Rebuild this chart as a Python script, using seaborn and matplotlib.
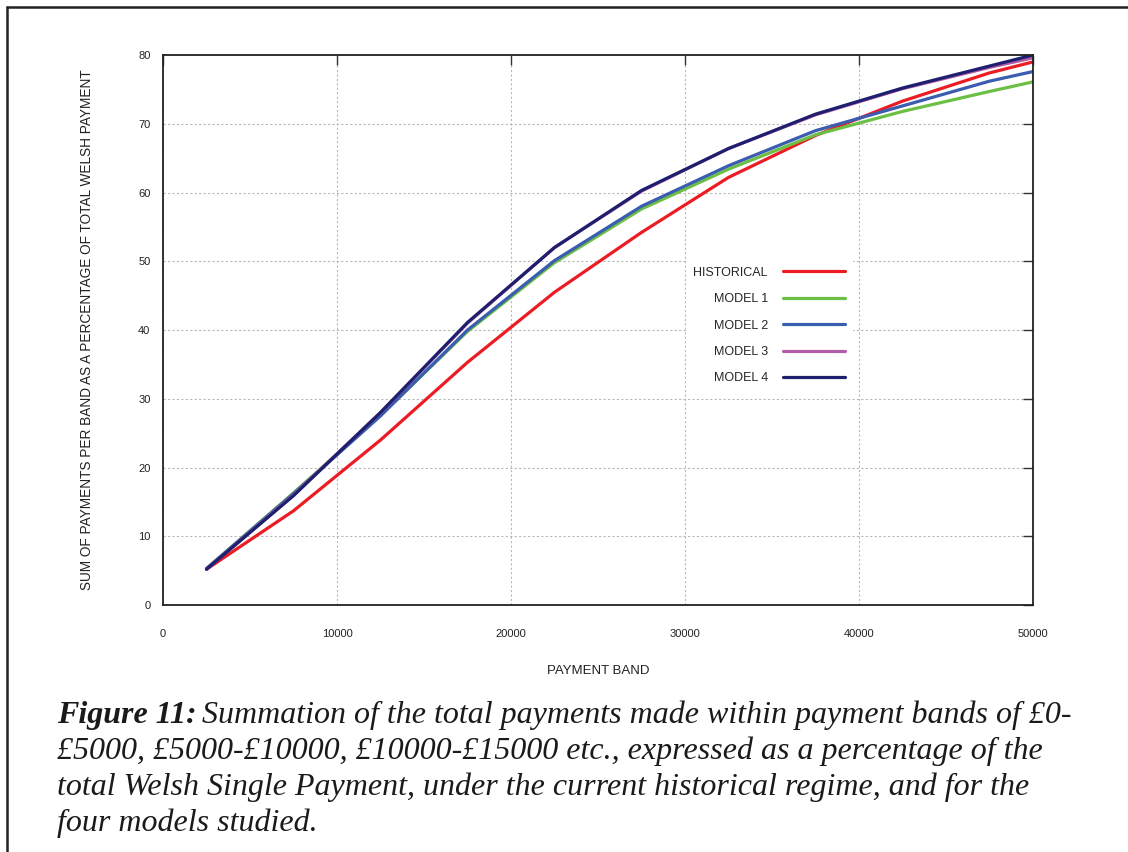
import pandas as pd
import seaborn as sns
import matplotlib.pyplot as plt
from matplotlib.lines import Line2D

## Dados
bands = [2500, 7500, 12500, 17500, 22500, 27500, 32500, 37500, 42500, 47500, 50000]
historical = [5.2, 13.7, 24.0, 35.3, 45.5, 54.2, 62.2, 68.3, 73.3, 77.4, 79.0]
model_1 = [5.3, 16.3, 27.6, 39.8, 49.8, 57.6, 63.4, 68.4, 71.8, 74.7, 76.1]
model_2 = [5.3, 16.2, 27.5, 40.0, 50.1, 58.0, 63.9, 69.0, 72.6, 76.2, 77.6]
model_3 = [5.2, 16.0, 28.0, 41.0, 52.0, 60.2, 66.4, 71.3, 75.1, 78.2, 79.6]
model_4 = [5.2, 15.9, 28.0, 41.1, 52.0, 60.3, 66.4, 71.4, 75.2, 78.4, 80.0]

series_names = ['HISTORICAL', 'MODEL 1', 'MODEL 2', 'MODEL 3', 'MODEL 4']
series_values = [historical, model_1, model_2, model_3, model_4]
colors = ['#ec1c24', '#6cbf45', '#3a5db0', '#b45ca8', '#1e1f6e']

rows = []
for name, vals in zip(series_names, series_values):
    for b, v in zip(bands, vals):
        rows.append({'band': b, 'value': v, 'series': name})
df = pd.DataFrame(rows)

sns.set_style('white')
plt.rcParams['font.family'] = ['Liberation Sans', 'DejaVu Sans']

fig = plt.figure(figsize=(11.28, 8.52), dpi=100)
ax = fig.add_axes([0.1445, 0.2899, 0.7713, 0.6455])

sns.lineplot(data=df, x='band', y='value', hue='series', hue_order=series_names,
             palette=colors, linewidth=2.3, ax=ax, legend=False)

ax.set_xlim(0, 50000)
ax.set_ylim(0, 80)
ax.set_xticks(range(0, 50001, 10000))
ax.set_yticks(range(0, 81, 10))
ax.grid(True, color='#b8b8b8', linestyle=(0, (2, 2)), linewidth=0.8)
for s in ax.spines.values():
    s.set_color('#222222')
    s.set_linewidth(1.3)
ax.tick_params(axis='both', direction='in', length=7, width=1, color='#333333',
               top=True, right=True, labelsize=8, labelcolor='#222222')
ax.tick_params(axis='x', pad=17)
ax.tick_params(axis='y', pad=9)
ax.set_xlabel('PAYMENT BAND', fontsize=9.5, color='#222222', labelpad=19)
ax.set_ylabel('SUM OF PAYMENTS PER BAND AS A PERCENTAGE OF TOTAL WELSH PAYMENT',
              fontsize=9.8, color='#222222', labelpad=32)

handles = [Line2D([0], [0], color=c, lw=2.3) for c in colors]
leg = ax.legend(handles, series_names, loc='center', bbox_to_anchor=(0.697, 0.508),
                markerfirst=False, frameon=True, fontsize=9, labelspacing=1.15,
                handlelength=5, handletextpad=1.2, borderpad=0.6)
leg.get_frame().set_facecolor('white')
leg.get_frame().set_edgecolor('none')
leg.get_frame().set_alpha(1)

# moldura parcial da pagina
fig.add_artist(Line2D([7/1128, 1], [1 - 7/852, 1 - 7/852], color='#222222', lw=1.8,
                      transform=fig.transFigure))
fig.add_artist(Line2D([7/1128, 7/1128], [0, 1 - 7/852], color='#222222', lw=1.8,
                      transform=fig.transFigure))

# legenda da figura
cap = dict(family=['Liberation Serif', 'DejaVu Serif'], fontsize=23, style='italic',
           color='#1a1a1a', va='center', ha='left')
t1 = fig.text(57/1128, 1 - 715/852, 'Figure 11:', weight='bold', **cap)
fig.canvas.draw()
bb = t1.get_window_extent()
fig.text(bb.x1 / 1128 + 5/1128, 1 - 715/852,
         'Summation of the total payments made within payment bands of £0-', **cap)
fig.text(57/1128, 1 - 751/852,
         '£5000, £5000-£10000, £10000-£15000 etc., expressed as a percentage of the', **cap)
fig.text(57/1128, 1 - 787/852,
         'total Welsh Single Payment, under the current historical regime, and for the', **cap)
fig.text(57/1128, 1 - 823/852, 'four models studied.', **cap)

plt.savefig('out.png', dpi=100)
